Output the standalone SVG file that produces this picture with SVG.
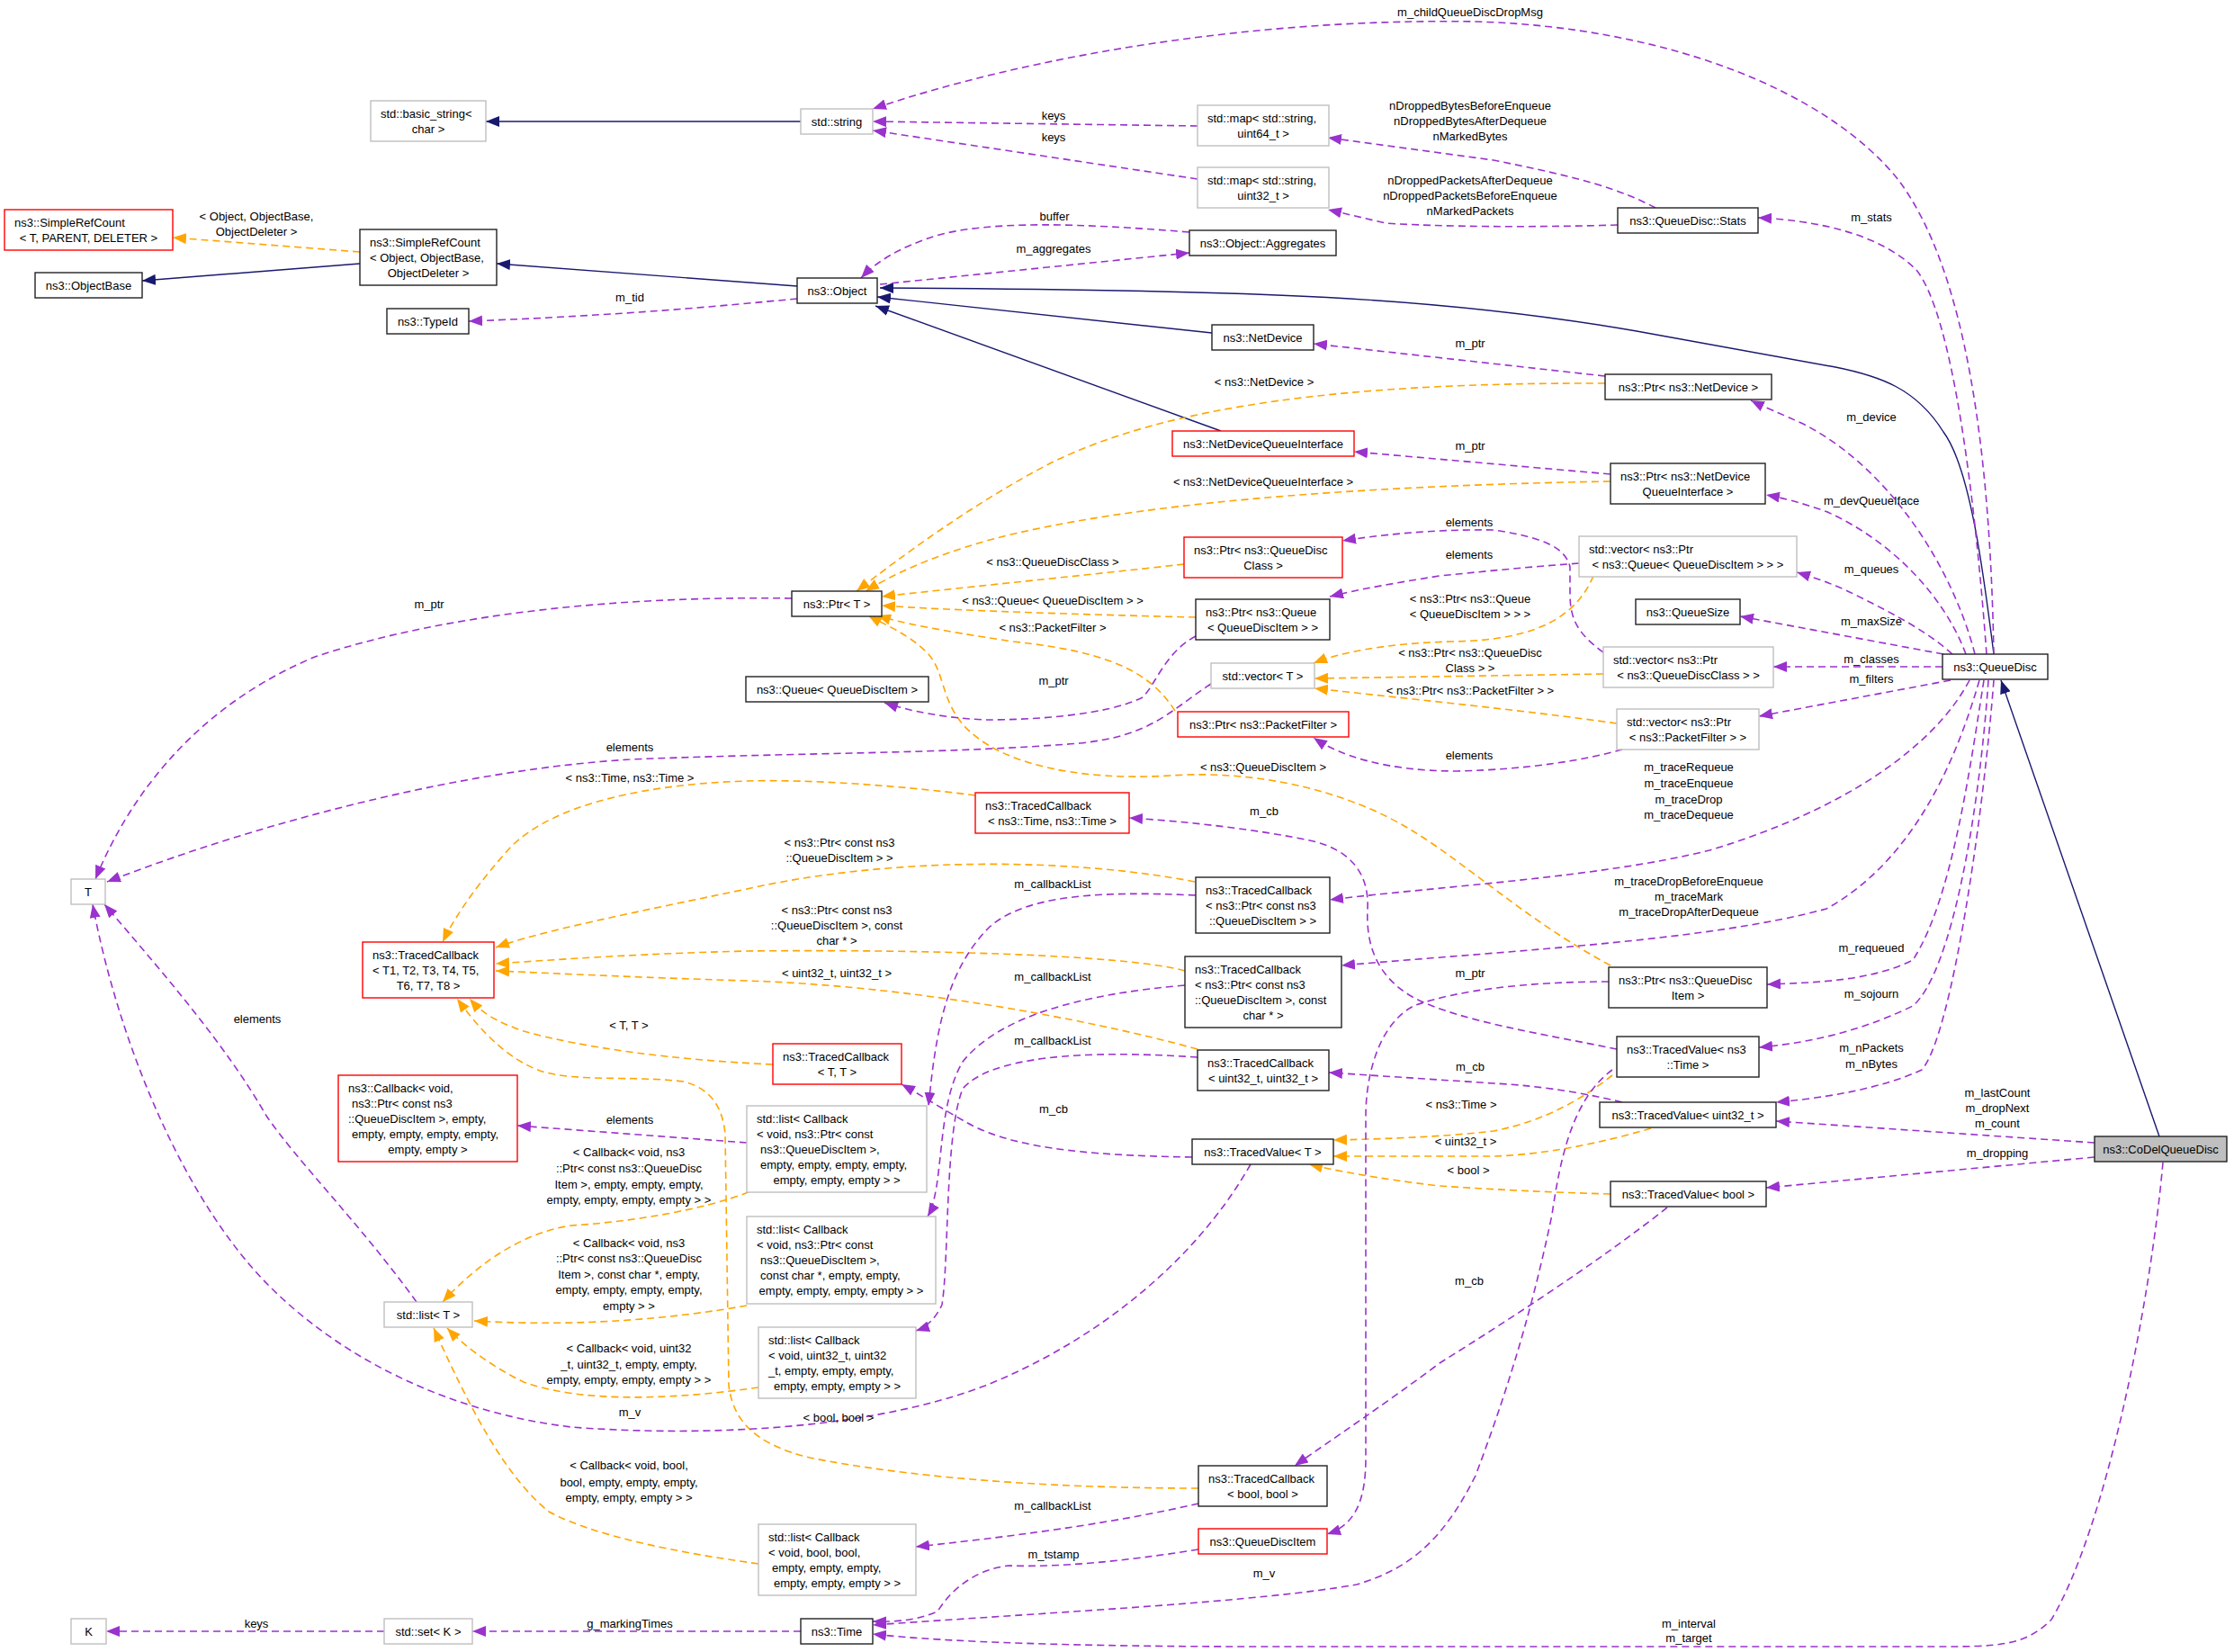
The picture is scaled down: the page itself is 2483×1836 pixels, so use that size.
<svg xmlns="http://www.w3.org/2000/svg" width="2483" height="1836" viewBox="0 0 2483 1836">
<style>
text{font-family:"Liberation Sans",Arial,sans-serif;font-size:13px;fill:#000}
.c{text-anchor:middle}
rect{fill:#fff;stroke-width:1.4}
.b{stroke:#222}.g{stroke:#bfbfbf}.r{stroke:#ff0000}
.i{stroke:#191970;fill:none;stroke-width:1.4}
.t{stroke:#ffa500;fill:none;stroke-width:1.6;stroke-dasharray:8,5}
.m{stroke:#9a32cd;fill:none;stroke-width:1.6;stroke-dasharray:8,5}
</style>
<defs>
<marker id="ai" markerUnits="userSpaceOnUse" markerWidth="16" markerHeight="12" refX="15" refY="6" orient="auto"><path d="M0,0L15,6L0,12z" fill="#191970"/></marker>
<marker id="at" markerUnits="userSpaceOnUse" markerWidth="16" markerHeight="12" refX="15" refY="6" orient="auto"><path d="M0,0L15,6L0,12z" fill="#ffa500"/></marker>
<marker id="am" markerUnits="userSpaceOnUse" markerWidth="16" markerHeight="12" refX="15" refY="6" orient="auto"><path d="M0,0L15,6L0,12z" fill="#9a32cd"/></marker>
</defs>
<rect x="0" y="0" width="2483" height="1836" style="fill:#fff;stroke:none"/>
<g id="edges">
<g marker-end="url(#ai)">
<path class="i" d="M890,135L540,135"/>
<path class="i" d="M400,293L158,312"/>
<path class="i" d="M886,318L552,293"/>
<path class="i" d="M1347,370L975,330"/>
<path class="i" d="M1357,479L973,340"/>
<path class="i" d="M2216,727C2205,640 2190,520 2160,480C2130,432 2090,418 2040,408L1819,368C1600,330 1400,322 978,320"/>
<path class="i" d="M2400,1263L2224,756"/>
</g>
<g marker-end="url(#at)">
<path class="t" d="M400,280L192,264"/>
<path class="t" d="M1784,426C1500,425 1300,450 1169,514C1080,560 1000,620 952,657"/>
<path class="t" d="M1790,535C1500,540 1250,560 1100,600C1030,620 990,640 962,657"/>
<path class="t" d="M1316,627C1200,640 1050,655 980,663"/>
<path class="t" d="M1329,686C1200,683 1050,678 980,673"/>
<path class="t" d="M1306,790C1280,750 1240,725 1126,713C1040,700 1000,692 975,684"/>
<path class="t" d="M1790,1073C1700,1025 1630,960 1571,924C1500,880 1400,855 1300,862C1200,868 1110,850 1070,805C1045,775 1050,745 1030,725C1010,705 985,695 965,684"/>
<path class="t" d="M1771,640C1750,690 1700,712 1613,713C1540,715 1490,725 1460,737"/>
<path class="t" d="M1782,749L1461,754"/>
<path class="t" d="M1797,804C1700,790 1550,775 1461,765"/>
<path class="t" d="M1084,884C1000,873 900,866 830,868C700,872 600,900 560,950C520,995 500,1030 492,1047"/>
<path class="t" d="M1328,980C1200,955 1000,950 830,988C700,1015 600,1035 551,1053"/>
<path class="t" d="M1317,1079C1250,1060 1000,1055 830,1057C700,1060 600,1068 551,1071"/>
<path class="t" d="M1331,1166C1200,1130 1000,1095 830,1090C700,1086 600,1081 551,1079"/>
<path class="t" d="M859,1183C750,1178 650,1165 582,1146C550,1135 535,1125 522,1110"/>
<path class="t" d="M1332,1654C1150,1654 1000,1640 900,1620C840,1605 815,1580 810,1540L806,1260C803,1230 790,1210 760,1202C700,1195 640,1203 600,1190C560,1175 530,1140 508,1110"/>
<path class="t" d="M1792,1195C1760,1220 1720,1245 1660,1257C1600,1264 1530,1266 1482,1267"/>
<path class="t" d="M1835,1254C1780,1270 1720,1283 1660,1285L1482,1285"/>
<path class="t" d="M1790,1327C1720,1325 1660,1322 1600,1318C1530,1310 1480,1300 1455,1294"/>
<path class="t" d="M832,1325C780,1345 700,1358 635,1362C580,1370 530,1405 492,1447"/>
<path class="t" d="M830,1451C750,1465 650,1475 527,1468"/>
<path class="t" d="M843,1542C750,1555 650,1560 582,1536C550,1520 520,1500 497,1476"/>
<path class="t" d="M843,1738C750,1725 660,1707 610,1680C560,1640 520,1560 482,1476"/>
</g>
<g marker-end="url(#am)">
<path class="m" d="M2216,727C2212,500 2185,300 2110,200C2030,100 1850,30 1640,24C1400,20 1150,60 970,121"/>
<path class="m" d="M1331,140L970,135"/>
<path class="m" d="M1331,199L970,145"/>
<path class="m" d="M1840,231C1800,210 1760,198 1660,178L1476,153"/>
<path class="m" d="M1798,250C1700,253 1600,252 1540,248L1476,233"/>
<path class="m" d="M2208,727C2195,550 2170,350 2130,300C2090,260 2020,245 1954,242"/>
<path class="m" d="M1322,258C1200,248 1100,245 1040,262C1000,275 975,290 957,309"/>
<path class="m" d="M978,316L1322,281"/>
<path class="m" d="M886,332C800,340 700,350 521,357"/>
<path class="m" d="M1784,418L1460,382"/>
<path class="m" d="M2195,727C2170,630 2100,520 2004,471C1980,460 1960,452 1946,445"/>
<path class="m" d="M1790,527L1505,502"/>
<path class="m" d="M2185,727C2160,660 2100,600 2031,569C2000,558 1980,553 1963,550"/>
<path class="m" d="M1782,725C1755,705 1745,690 1745,660L1745,630C1740,610 1720,598 1660,589C1590,588 1530,595 1492,601"/>
<path class="m" d="M1755,626C1700,630 1660,634 1600,640C1550,648 1510,655 1478,663"/>
<path class="m" d="M2170,727C2140,700 2100,680 2060,660C2040,650 2020,643 1997,636"/>
<path class="m" d="M2160,727L1934,685"/>
<path class="m" d="M2159,741L1971,741"/>
<path class="m" d="M2168,756L1955,796"/>
<path class="m" d="M1329,707C1295,725 1285,760 1270,775C1230,795 1150,800 1095,800C1050,798 1010,790 983,781"/>
<path class="m" d="M1346,760C1300,790 1280,818 1200,826C1050,838 900,836 700,844C520,855 300,910 119,980"/>
<path class="m" d="M880,665C700,662 500,680 350,730C230,780 150,870 106,977"/>
<path class="m" d="M1803,833C1760,845 1700,855 1620,857C1540,857 1490,840 1460,820"/>
<path class="m" d="M2189,756C2150,830 2050,900 1900,945C1780,975 1600,985 1478,1000"/>
<path class="m" d="M2200,756C2170,860 2120,960 2030,1010C1900,1045 1700,1055 1491,1073"/>
<path class="m" d="M2205,756C2190,850 2170,1000 2126,1067C2080,1090 2020,1092 1964,1094"/>
<path class="m" d="M2210,756C2200,900 2170,1080 2126,1118C2060,1150 2000,1160 1955,1164"/>
<path class="m" d="M2216,756C2205,900 2170,1150 2136,1189C2090,1210 2030,1220 1974,1225"/>
<path class="m" d="M2328,1270L1974,1246"/>
<path class="m" d="M2328,1286L1963,1320"/>
<path class="m" d="M2404,1292C2390,1450 2340,1700 2280,1800C2250,1830 2220,1830 2150,1830L1400,1830C1200,1830 1050,1825 970,1816"/>
<path class="m" d="M1797,1166C1720,1150 1620,1135 1570,1108C1530,1085 1518,1050 1520,1010C1522,970 1500,945 1460,935C1400,922 1320,913 1255,909"/>
<path class="m" d="M1792,1189C1750,1220 1735,1280 1725,1350C1700,1470 1670,1560 1640,1640C1600,1720 1560,1745 1508,1761C1400,1780 1200,1790 970,1806"/>
<path class="m" d="M1803,1225C1750,1212 1700,1206 1660,1204L1477,1192"/>
<path class="m" d="M1853,1342C1780,1400 1680,1465 1600,1515C1540,1560 1480,1600 1439,1629"/>
<path class="m" d="M1325,1286C1200,1284 1120,1275 1070,1245C1040,1228 1020,1215 1002,1205"/>
<path class="m" d="M1390,1294C1330,1400 1220,1490 1095,1540C950,1595 750,1595 635,1586C500,1570 380,1510 300,1430C200,1330 130,1150 103,1005"/>
<path class="m" d="M463,1447C400,1360 330,1290 296,1240C250,1160 180,1080 116,1005"/>
<path class="m" d="M830,1270L575,1251"/>
<path class="m" d="M1329,995C1220,990 1140,995 1100,1030C1050,1080 1040,1150 1032,1229"/>
<path class="m" d="M1317,1095C1200,1105 1110,1130 1070,1180C1040,1230 1050,1320 1031,1352"/>
<path class="m" d="M1331,1175C1200,1166 1100,1175 1070,1210C1050,1260 1055,1400 1047,1450C1040,1465 1030,1475 1018,1479"/>
<path class="m" d="M1332,1671C1250,1690 1150,1705 1018,1719"/>
<path class="m" d="M1788,1091C1700,1091 1620,1100 1571,1118C1530,1140 1518,1200 1518,1240L1518,1620C1518,1670 1505,1695 1475,1705"/>
<path class="m" d="M1332,1722C1250,1735 1180,1742 1121,1740C1080,1745 1055,1770 1042,1791C1020,1800 1000,1803 970,1802"/>
<path class="m" d="M427,1813L118,1813"/>
<path class="m" d="M890,1813L525,1813"/>
</g>
<g id="edge-labels" class="lbl">
<text class="c" x="285" y="245">&lt; Object, ObjectBase,</text>
<text class="c" x="285" y="262">ObjectDeleter &gt;</text>
<text class="c" x="700" y="335">m_tid</text>
<text class="c" x="1634" y="18">m_childQueueDiscDropMsg</text>
<text class="c" x="1171" y="133">keys</text>
<text class="c" x="1171" y="157">keys</text>
<text class="c" x="1172" y="245">buffer</text>
<text class="c" x="1171" y="281">m_aggregates</text>
<text class="c" x="1634" y="122">nDroppedBytesBeforeEnqueue</text>
<text class="c" x="1634" y="139">nDroppedBytesAfterDequeue</text>
<text class="c" x="1634" y="156">nMarkedBytes</text>
<text class="c" x="1634" y="205">nDroppedPacketsAfterDequeue</text>
<text class="c" x="1634" y="222">nDroppedPacketsBeforeEnqueue</text>
<text class="c" x="1634" y="239">nMarkedPackets</text>
<text class="c" x="2080" y="246">m_stats</text>
<text class="c" x="1634" y="386">m_ptr</text>
<text class="c" x="1405" y="429">&lt; ns3::NetDevice &gt;</text>
<text class="c" x="2080" y="468">m_device</text>
<text class="c" x="1634" y="500">m_ptr</text>
<text class="c" x="1404" y="540">&lt; ns3::NetDeviceQueueInterface &gt;</text>
<text class="c" x="2080" y="561">m_devQueueIface</text>
<text class="c" x="1633" y="585">elements</text>
<text class="c" x="1633" y="621">elements</text>
<text class="c" x="1170" y="629">&lt; ns3::QueueDiscClass &gt;</text>
<text class="c" x="2080" y="637">m_queues</text>
<text class="c" x="1634" y="670">&lt; ns3::Ptr&lt; ns3::Queue</text>
<text class="c" x="1634" y="687">&lt; QueueDiscItem &gt; &gt; &gt;</text>
<text class="c" x="1170" y="672">&lt; ns3::Queue&lt; QueueDiscItem &gt; &gt;</text>
<text class="c" x="477" y="676">m_ptr</text>
<text class="c" x="2080" y="695">m_maxSize</text>
<text class="c" x="1170" y="702">&lt; ns3::PacketFilter &gt;</text>
<text class="c" x="1634" y="730">&lt; ns3::Ptr&lt; ns3::QueueDisc</text>
<text class="c" x="1634" y="747">Class &gt; &gt;</text>
<text class="c" x="2080" y="737">m_classes</text>
<text class="c" x="2080" y="759">m_filters</text>
<text class="c" x="1171" y="761">m_ptr</text>
<text class="c" x="1634" y="772">&lt; ns3::Ptr&lt; ns3::PacketFilter &gt; &gt;</text>
<text class="c" x="700" y="835">elements</text>
<text class="c" x="1633" y="844">elements</text>
<text class="c" x="1877" y="857">m_traceRequeue</text>
<text class="c" x="1877" y="875">m_traceEnqueue</text>
<text class="c" x="1877" y="893">m_traceDrop</text>
<text class="c" x="1877" y="910">m_traceDequeue</text>
<text class="c" x="1404" y="857">&lt; ns3::QueueDiscItem &gt;</text>
<text class="c" x="700" y="869">&lt; ns3::Time, ns3::Time &gt;</text>
<text class="c" x="1405" y="906">m_cb</text>
<text class="c" x="933" y="941">&lt; ns3::Ptr&lt; const ns3</text>
<text class="c" x="933" y="958">::QueueDiscItem &gt; &gt;</text>
<text class="c" x="1877" y="984">m_traceDropBeforeEnqueue</text>
<text class="c" x="1877" y="1001">m_traceMark</text>
<text class="c" x="1877" y="1018">m_traceDropAfterDequeue</text>
<text class="c" x="1170" y="987">m_callbackList</text>
<text class="c" x="930" y="1016">&lt; ns3::Ptr&lt; const ns3</text>
<text class="c" x="930" y="1033">::QueueDiscItem &gt;, const</text>
<text class="c" x="930" y="1050">char * &gt;</text>
<text class="c" x="2080" y="1058">m_requeued</text>
<text class="c" x="930" y="1086">&lt; uint32_t, uint32_t &gt;</text>
<text class="c" x="1634" y="1086">m_ptr</text>
<text class="c" x="1170" y="1090">m_callbackList</text>
<text class="c" x="2080" y="1109">m_sojourn</text>
<text class="c" x="286" y="1137">elements</text>
<text class="c" x="699" y="1144">&lt; T, T &gt;</text>
<text class="c" x="1170" y="1161">m_callbackList</text>
<text class="c" x="2080" y="1169">m_nPackets</text>
<text class="c" x="2080" y="1187">m_nBytes</text>
<text class="c" x="1634" y="1190">m_cb</text>
<text class="c" x="2220" y="1219">m_lastCount</text>
<text class="c" x="2220" y="1236">m_dropNext</text>
<text class="c" x="2220" y="1253">m_count</text>
<text class="c" x="1624" y="1232">&lt; ns3::Time &gt;</text>
<text class="c" x="1171" y="1237">m_cb</text>
<text class="c" x="700" y="1249">elements</text>
<text class="c" x="1629" y="1273">&lt; uint32_t &gt;</text>
<text class="c" x="699" y="1285">&lt; Callback&lt; void, ns3</text>
<text class="c" x="699" y="1303">::Ptr&lt; const ns3::QueueDisc</text>
<text class="c" x="699" y="1321">Item &gt;, empty, empty, empty,</text>
<text class="c" x="699" y="1338">empty, empty, empty, empty &gt; &gt;</text>
<text class="c" x="2220" y="1286">m_dropping</text>
<text class="c" x="1632" y="1305">&lt; bool &gt;</text>
<text class="c" x="699" y="1386">&lt; Callback&lt; void, ns3</text>
<text class="c" x="699" y="1403">::Ptr&lt; const ns3::QueueDisc</text>
<text class="c" x="699" y="1421">Item &gt;, const char *, empty,</text>
<text class="c" x="699" y="1438">empty, empty, empty, empty,</text>
<text class="c" x="699" y="1456">empty &gt; &gt;</text>
<text class="c" x="1633" y="1428">m_cb</text>
<text class="c" x="699" y="1503">&lt; Callback&lt; void, uint32</text>
<text class="c" x="699" y="1521">_t, uint32_t, empty, empty,</text>
<text class="c" x="699" y="1538">empty, empty, empty, empty &gt; &gt;</text>
<text class="c" x="700" y="1574">m_v</text>
<text class="c" x="932" y="1580">&lt; bool, bool &gt;</text>
<text class="c" x="699" y="1633">&lt; Callback&lt; void, bool,</text>
<text class="c" x="699" y="1652">bool, empty, empty, empty,</text>
<text class="c" x="699" y="1669">empty, empty, empty &gt; &gt;</text>
<text class="c" x="1170" y="1678">m_callbackList</text>
<text class="c" x="1171" y="1732">m_tstamp</text>
<text class="c" x="1405" y="1753">m_v</text>
<text class="c" x="285" y="1809">keys</text>
<text class="c" x="700" y="1809">g_markingTimes</text>
<text class="c" x="1877" y="1809">m_interval</text>
<text class="c" x="1877" y="1825">m_target</text>
</g>
</g>
<g id="n1"><rect class="g" x="412" y="112" width="128" height="45"/><text x="423" y="131">std::basic_string&lt;</text><text class="c" x="476" y="148">char &gt;</text></g>
<g id="n2"><rect class="g" x="890" y="121" width="80" height="28"/><text class="c" x="930" y="140">std::string</text></g>
<g id="n3"><rect class="g" x="1331" y="117" width="146" height="45"/><text x="1342" y="136">std::map&lt; std::string,</text><text class="c" x="1404" y="153">uint64_t &gt;</text></g>
<g id="n4"><rect class="g" x="1331" y="186" width="146" height="45"/><text x="1342" y="205">std::map&lt; std::string,</text><text class="c" x="1404" y="222">uint32_t &gt;</text></g>
<g id="n5"><rect class="r" x="5" y="233" width="187" height="45"/><text x="16" y="252">ns3::SimpleRefCount</text><text class="c" x="98.5" y="269">&lt; T, PARENT, DELETER &gt;</text></g>
<g id="n6"><rect class="b" x="39" y="303" width="119" height="28"/><text class="c" x="98.5" y="322">ns3::ObjectBase</text></g>
<g id="n7"><rect class="b" x="400" y="255" width="152" height="62"/><text x="411" y="274">ns3::SimpleRefCount</text><text x="411" y="291">&lt; Object, ObjectBase,</text><text class="c" x="476" y="308">ObjectDeleter &gt;</text></g>
<g id="n8"><rect class="b" x="430" y="343" width="91" height="28"/><text class="c" x="475.5" y="362">ns3::TypeId</text></g>
<g id="n9"><rect class="b" x="886" y="309" width="89" height="28"/><text class="c" x="930.5" y="328">ns3::Object</text></g>
<g id="n10"><rect class="b" x="1322" y="256" width="163" height="28"/><text class="c" x="1403.5" y="275">ns3::Object::Aggregates</text></g>
<g id="n11"><rect class="b" x="1798" y="231" width="156" height="28"/><text class="c" x="1876" y="250">ns3::QueueDisc::Stats</text></g>
<g id="n12"><rect class="b" x="1347" y="361" width="113" height="28"/><text class="c" x="1403.5" y="380">ns3::NetDevice</text></g>
<g id="n13"><rect class="b" x="1784" y="416" width="185" height="28"/><text class="c" x="1876.5" y="435">ns3::Ptr&lt; ns3::NetDevice &gt;</text></g>
<g id="n14"><rect class="r" x="1303" y="479" width="202" height="28"/><text class="c" x="1404" y="498">ns3::NetDeviceQueueInterface</text></g>
<g id="n15"><rect class="b" x="1790" y="515" width="172" height="45"/><text x="1801" y="534">ns3::Ptr&lt; ns3::NetDevice</text><text class="c" x="1876" y="551">QueueInterface &gt;</text></g>
<g id="n16"><rect class="r" x="1316" y="597" width="176" height="45"/><text x="1327" y="616">ns3::Ptr&lt; ns3::QueueDisc</text><text class="c" x="1404" y="633">Class &gt;</text></g>
<g id="n17"><rect class="g" x="1755" y="596" width="242" height="45"/><text x="1766" y="615">std::vector&lt; ns3::Ptr</text><text class="c" x="1876" y="632">&lt; ns3::Queue&lt; QueueDiscItem &gt; &gt; &gt;</text></g>
<g id="n18"><rect class="b" x="880" y="657" width="100" height="28"/><text class="c" x="930" y="676">ns3::Ptr&lt; T &gt;</text></g>
<g id="n19"><rect class="b" x="1329" y="666" width="149" height="45"/><text x="1340" y="685">ns3::Ptr&lt; ns3::Queue</text><text class="c" x="1403.5" y="702">&lt; QueueDiscItem &gt; &gt;</text></g>
<g id="n20"><rect class="b" x="1818" y="666" width="116" height="28"/><text class="c" x="1876" y="685">ns3::QueueSize</text></g>
<g id="n21"><rect class="g" x="1782" y="719" width="189" height="45"/><text x="1793" y="738">std::vector&lt; ns3::Ptr</text><text class="c" x="1876.5" y="755">&lt; ns3::QueueDiscClass &gt; &gt;</text></g>
<g id="n22"><rect class="b" x="2159" y="727" width="117" height="28"/><text class="c" x="2217.5" y="746">ns3::QueueDisc</text></g>
<g id="n23"><rect class="g" x="1346" y="737" width="115" height="28"/><text class="c" x="1403.5" y="756">std::vector&lt; T &gt;</text></g>
<g id="n24"><rect class="b" x="829" y="752" width="203" height="28"/><text class="c" x="930.5" y="771">ns3::Queue&lt; QueueDiscItem &gt;</text></g>
<g id="n25"><rect class="r" x="1309" y="791" width="190" height="28"/><text class="c" x="1404" y="810">ns3::Ptr&lt; ns3::PacketFilter &gt;</text></g>
<g id="n26"><rect class="g" x="1797" y="788" width="158" height="45"/><text x="1808" y="807">std::vector&lt; ns3::Ptr</text><text class="c" x="1876" y="824">&lt; ns3::PacketFilter &gt; &gt;</text></g>
<g id="n27"><rect class="g" x="79" y="977" width="38" height="28"/><text class="c" x="98" y="996">T</text></g>
<g id="n28"><rect class="r" x="1084" y="881" width="171" height="45"/><text x="1095" y="900">ns3::TracedCallback</text><text class="c" x="1169.5" y="917">&lt; ns3::Time, ns3::Time &gt;</text></g>
<g id="n29"><rect class="b" x="1329" y="975" width="149" height="62"/><text x="1340" y="994">ns3::TracedCallback</text><text x="1340" y="1011">&lt; ns3::Ptr&lt; const ns3</text><text class="c" x="1403.5" y="1028">::QueueDiscItem &gt; &gt;</text></g>
<g id="n30"><rect class="r" x="403" y="1047" width="146" height="62"/><text x="414" y="1066">ns3::TracedCallback</text><text x="414" y="1083">&lt; T1, T2, T3, T4, T5,</text><text class="c" x="476" y="1100">T6, T7, T8 &gt;</text></g>
<g id="n31"><rect class="b" x="1317" y="1063" width="174" height="79"/><text x="1328" y="1082">ns3::TracedCallback</text><text x="1328" y="1099">&lt; ns3::Ptr&lt; const ns3</text><text x="1328" y="1116">::QueueDiscItem &gt;, const</text><text class="c" x="1404" y="1133">char * &gt;</text></g>
<g id="n32"><rect class="b" x="1788" y="1075" width="176" height="45"/><text x="1799" y="1094">ns3::Ptr&lt; ns3::QueueDisc</text><text class="c" x="1876" y="1111">Item &gt;</text></g>
<g id="n33"><rect class="b" x="1797" y="1152" width="158" height="45"/><text x="1808" y="1171">ns3::TracedValue&lt; ns3</text><text class="c" x="1876" y="1188">::Time &gt;</text></g>
<g id="n34"><rect class="r" x="859" y="1160" width="143" height="45"/><text x="870" y="1179">ns3::TracedCallback</text><text class="c" x="930.5" y="1196">&lt; T, T &gt;</text></g>
<g id="n35"><rect class="b" x="1331" y="1167" width="146" height="45"/><text x="1342" y="1186">ns3::TracedCallback</text><text class="c" x="1404" y="1203">&lt; uint32_t, uint32_t &gt;</text></g>
<g id="n36"><rect class="r" x="376" y="1195" width="199" height="96"/><text x="387" y="1214">ns3::Callback&lt; void,</text><text x="391" y="1231">ns3::Ptr&lt; const ns3</text><text x="387" y="1248">::QueueDiscItem &gt;, empty,</text><text x="391" y="1265">empty, empty, empty, empty,</text><text class="c" x="475.5" y="1282">empty, empty &gt;</text></g>
<g id="n37"><rect class="b" x="1778" y="1225" width="196" height="28"/><text class="c" x="1876" y="1244">ns3::TracedValue&lt; uint32_t &gt;</text></g>
<g id="n38"><rect class="g" x="830" y="1229" width="200" height="96"/><text x="841" y="1248">std::list&lt; Callback</text><text x="841" y="1265">&lt; void, ns3::Ptr&lt; const</text><text x="845" y="1282">ns3::QueueDiscItem &gt;,</text><text x="845" y="1299">empty, empty, empty, empty,</text><text class="c" x="930" y="1316">empty, empty, empty &gt; &gt;</text></g>
<g id="n39"><rect class="b" x="1325" y="1266" width="157" height="28"/><text class="c" x="1403.5" y="1285">ns3::TracedValue&lt; T &gt;</text></g>
<g id="n40"><rect class="b" x="2328" y="1263" width="147" height="28" style="fill:#bfbfbf"/><text class="c" x="2401.5" y="1282">ns3::CoDelQueueDisc</text></g>
<g id="n41"><rect class="b" x="1790" y="1313" width="173" height="28"/><text class="c" x="1876.5" y="1332">ns3::TracedValue&lt; bool &gt;</text></g>
<g id="n42"><rect class="g" x="830" y="1352" width="210" height="97"/><text x="841" y="1371">std::list&lt; Callback</text><text x="841" y="1388">&lt; void, ns3::Ptr&lt; const</text><text x="845" y="1405">ns3::QueueDiscItem &gt;,</text><text x="845" y="1422">const char *, empty, empty,</text><text class="c" x="935" y="1439">empty, empty, empty, empty &gt; &gt;</text></g>
<g id="n43"><rect class="g" x="427" y="1447" width="98" height="28"/><text class="c" x="476" y="1466">std::list&lt; T &gt;</text></g>
<g id="n44"><rect class="g" x="843" y="1475" width="175" height="79"/><text x="854" y="1494">std::list&lt; Callback</text><text x="854" y="1511">&lt; void, uint32_t, uint32</text><text x="854" y="1528">_t, empty, empty, empty,</text><text class="c" x="930.5" y="1545">empty, empty, empty &gt; &gt;</text></g>
<g id="n45"><rect class="b" x="1332" y="1629" width="143" height="45"/><text x="1343" y="1648">ns3::TracedCallback</text><text class="c" x="1403.5" y="1665">&lt; bool, bool &gt;</text></g>
<g id="n46"><rect class="g" x="843" y="1694" width="175" height="79"/><text x="854" y="1713">std::list&lt; Callback</text><text x="854" y="1730">&lt; void, bool, bool,</text><text x="858" y="1747">empty, empty, empty,</text><text class="c" x="930.5" y="1764">empty, empty, empty &gt; &gt;</text></g>
<g id="n47"><rect class="r" x="1332" y="1699" width="143" height="28"/><text class="c" x="1403.5" y="1718">ns3::QueueDiscItem</text></g>
<g id="n48"><rect class="g" x="79" y="1799" width="39" height="28"/><text class="c" x="98.5" y="1818">K</text></g>
<g id="n49"><rect class="g" x="427" y="1799" width="98" height="28"/><text class="c" x="476" y="1818">std::set&lt; K &gt;</text></g>
<g id="n50"><rect class="b" x="890" y="1799" width="80" height="28"/><text class="c" x="930" y="1818">ns3::Time</text></g>
</svg>
